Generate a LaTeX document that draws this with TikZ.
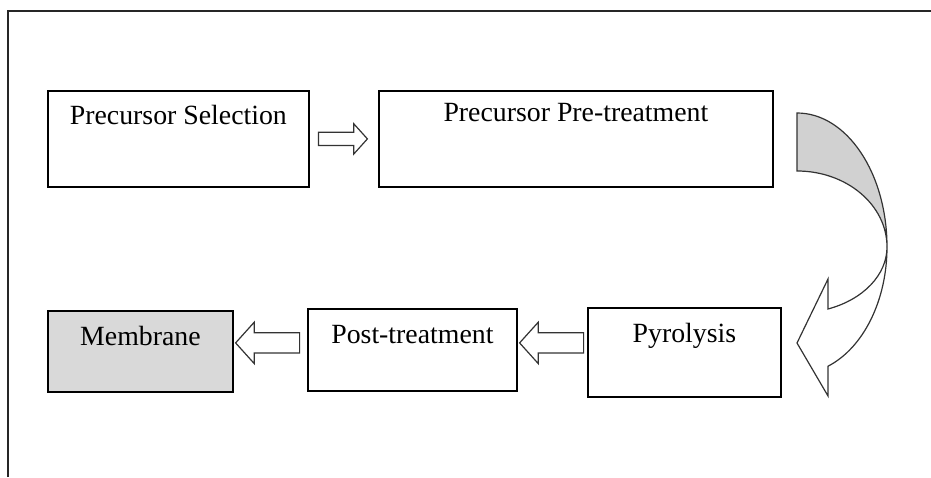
\documentclass[tikz,border=0pt]{standalone}
\usepackage{fontspec}
\setmainfont{Liberation Serif}
\usetikzlibrary{shapes,arrows.meta,positioning,calc}

\begin{document}
\begin{tikzpicture}[x=1pt, y=1pt,
    stage/.style={draw, line width=1.8pt, inner sep=0pt, anchor=north west, font=\fontsize{27.8pt}{33pt}\selectfont},
    fatarrow/.style={single arrow, draw=black!80, line width=1.2pt, fill=white, inner xsep=0pt, minimum width=1pt, single arrow tip angle=96},
    bandline/.style={draw=black!80, line width=1.2pt}]
  \useasboundingbox (0,0) rectangle (931,477);
  \draw[line width=2pt, black!85] (8,0) -- (8,466) -- (931,466);

  \node[stage, minimum width=261pt, minimum height=96pt, text height=34pt, text depth=62pt] (sel) at (47,387) {Precursor Selection};
  \node[stage, minimum width=394pt, minimum height=96pt, text height=31pt, text depth=65pt] (pre) at (378,387) {Precursor Pre-treatment};
  \node[stage, minimum width=193pt, minimum height=89pt, text height=35pt, text depth=54pt] (pyro) at (587,170) {Pyrolysis};
  \node[stage, minimum width=209pt, minimum height=82pt, text height=35pt, text depth=47pt] (post) at (307,169) {Post-treatment};
  \node[stage, fill=black!15, minimum width=185pt, minimum height=81pt, text height=35pt, text depth=46pt] (memb) at (47,167) {Membrane};

  \node[fatarrow, anchor=tail, minimum height=49pt, inner ysep=6pt, single arrow head extend=8.5pt] (a1) at ([xshift=8pt]sel.east) {};
  \node[fatarrow, shape border rotate=180, anchor=tip, minimum height=64pt, inner ysep=9.5pt, single arrow head extend=10.5pt] (a3) at ([shift={(1pt,7pt)}]post.east) {};
  \node[fatarrow, shape border rotate=180, anchor=tip, minimum height=64pt, inner ysep=9.5pt, single arrow head extend=10.5pt] (a4) at ([shift={(1pt,8.5pt)}]memb.east) {};

  \coordinate (turn) at (797,230);
  \path[bandline, fill=black!18] ($(turn)+(0,134)$) arc[start angle=90, end angle=0, x radius=90pt, y radius=134pt]
    arc[start angle=0, end angle=90, x radius=90pt, y radius=76pt] -- cycle;
  \path[bandline, fill=white] ($(turn)+(90,0)$) arc[start angle=0, end angle=-69.85, x radius=90pt, y radius=127pt]
    -- ($(turn)+(31,-149)$) -- ($(turn)+(0,-96)$) -- ($(turn)+(31,-32)$) -- ($(turn)+(31,-62)$)
    arc[start angle=-69.85, end angle=0, x radius=90pt, y radius=66pt] -- cycle;
\end{tikzpicture}
\end{document}
